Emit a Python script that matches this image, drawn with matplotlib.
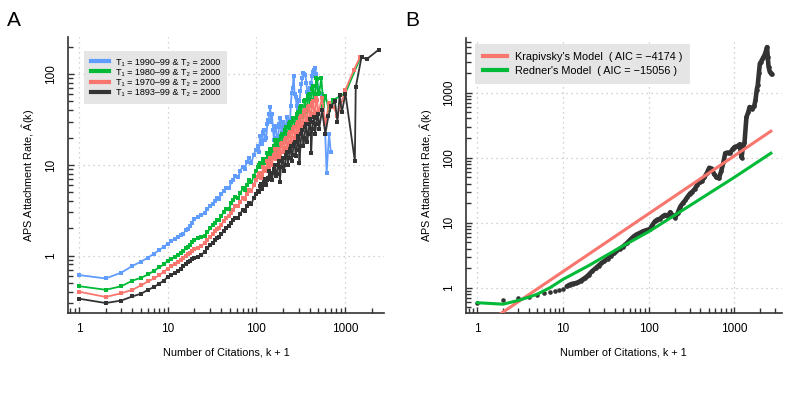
import numpy as np
import matplotlib
matplotlib.use('Agg')
import matplotlib.pyplot as plt
from matplotlib.lines import Line2D
from matplotlib.ticker import FixedLocator, NullFormatter

plt.rcParams['font.family'] = ['Liberation Sans', 'DejaVu Sans']
plt.rcParams['mathtext.fontset'] = 'custom'
plt.rcParams['mathtext.rm'] = 'Liberation Sans'
plt.rcParams['mathtext.it'] = 'Liberation Sans:italic'

# ---------------- Panel A data ----------------
K_LO = [1, 2, 3, 4, 5, 6, 7, 8, 9, 10, 11, 12, 13, 14, 15, 16, 17, 18, 19, 20,
        22, 24, 26, 28, 30, 32, 34, 36, 38, 40, 43, 46, 49, 52, 55, 58,
        62, 66, 70, 74, 78, 83, 88, 93, 98]
K_HI = [104, 107, 110, 113, 116, 119, 122, 126, 129, 133, 136, 140, 143, 147, 150, 154,
        158, 162, 166, 170, 175, 180, 184, 189, 194, 199, 204, 210, 215, 220, 226, 232,
        238, 244, 250, 256, 263, 270, 277, 284, 291, 298, 306, 314, 322, 330, 339, 348,
        357, 366, 375, 385, 395, 405, 415, 426, 437, 448, 460, 472, 484, 497, 510]

BLUE_LO = [0.61, 0.56, 0.65, 0.77, 0.86, 0.95, 1.05, 1.15, 1.25, 1.35, 1.45, 1.52, 1.6, 1.68, 1.75, 1.9, 1.98, 2.1, 2.3, 2.55,
           2.65, 2.8, 2.95, 3.25, 3.5, 3.7, 4.0, 4.35, 4.2, 4.8, 5.1, 5.6, 5.5, 6.4, 6.9, 7.5,
           7.3, 8.6, 9.6, 9.0, 10.8, 12.0, 10.5, 13.0, 14.5]
BLUE_HI = [16, 14, 21, 18, 17, 23, 24, 19, 20, 28, 31, 36, 43, 30, 36, 24,
           19, 27, 26, 20, 16.5, 28, 33, 26, 23, 30, 19, 24, 27, 34, 31, 22,
           25, 45, 62, 70, 95, 60, 56, 45, 40, 52, 50, 65, 78, 90, 104, 100,
           97, 80, 64, 58, 54, 70, 80, 95, 107, 112, 118, 100, 88, 70, 62]
BLUE_TAIL_K = [550, 590, 620, 660, 690]
BLUE_TAIL_A = [60, 30, 8.2, 22, 14]

GREEN_LO = [0.46, 0.42, 0.46, 0.53, 0.57, 0.62, 0.68, 0.74, 0.80, 0.87, 0.92, 0.96, 1.02, 1.08, 1.12, 1.2, 1.25, 1.32, 1.42, 1.5,
            1.55, 1.6, 1.65, 1.8, 2.0, 2.15, 2.3, 2.5, 2.45, 2.75, 3.0, 3.3, 3.3, 3.8, 4.1, 4.4,
            4.3, 4.9, 5.5, 5.3, 6.0, 6.8, 6.4, 7.5, 8.5]
GREEN_HI = [9.5, 10, 10.5, 9.5, 9.8, 11.5, 11.5, 10.5, 11, 13.5, 13, 12, 15, 14, 12.5, 14.5,
            16, 19, 14, 17, 19, 15, 16, 21, 22, 18, 18, 24, 26, 20, 21, 28,
            30, 24, 24, 33, 33, 26, 27, 36, 38, 28, 30, 42, 45, 34, 36, 50,
            52, 38, 40, 58, 60, 45, 48, 68, 75, 52, 55, 90, 88, 60, 62]
GREEN_TAIL_K = [540, 570, 600, 660, 740, 1010, 1480]
GREEN_TAIL_A = [90, 45, 58, 40, 52, 62, 150]

RED_LO = [0.40, 0.35, 0.385, 0.42, 0.47, 0.52, 0.56, 0.61, 0.66, 0.72, 0.76, 0.80, 0.85, 0.9, 0.94, 1.0, 1.04, 1.08, 1.12, 1.17,
          1.2, 1.28, 1.38, 1.5, 1.6, 1.72, 1.85, 1.95, 2.0, 2.2, 2.4, 2.6, 2.7, 2.95, 3.2, 3.5,
          3.5, 3.9, 4.3, 4.2, 4.8, 5.3, 5.1, 6.0, 6.8]
RED_HI = [7.4, 8.0, 8.2, 7.2, 7.8, 9.5, 9.2, 8.5, 8.8, 11, 10.5, 9.5, 12, 11, 10, 12,
          13, 15, 11.5, 13, 15, 12, 13, 17, 17.5, 14, 14.5, 19, 20, 15.5, 16.5, 22,
          23, 18, 18, 25, 26, 20, 21, 28, 30, 22, 23, 33, 35, 26, 27, 38,
          40, 29, 30, 44, 45, 33, 34, 48, 50, 36, 38, 54, 52, 38, 40]
RED_TAIL_K = [550, 600, 660, 740, 820, 1010, 1250, 1480]
RED_TAIL_A = [55, 28, 48, 44, 35, 67, 110, 155]

BLACK_LO = [0.335, 0.30, 0.32, 0.355, 0.38, 0.42, 0.45, 0.49, 0.53, 0.58, 0.61, 0.64, 0.68, 0.72, 0.76, 0.8, 0.84, 0.88, 0.92, 0.95,
            0.96, 1.02, 1.1, 1.2, 1.3, 1.38, 1.48, 1.55, 1.6, 1.72, 1.85, 2.0, 2.1, 2.3, 2.45, 2.6,
            2.6, 2.9, 3.2, 3.1, 3.5, 3.8, 3.7, 4.3, 4.8]
BLACK_HI = [5.2, 5.0, 5.8, 6.2, 5.4, 6.0, 6.5, 7.0, 6.0, 6.8, 7.2, 8.5, 8.0, 7.0, 6.8, 8.2,
            9.0, 10, 7.5, 8.0, 10, 11, 6.5, 9.5, 11, 12, 8.5, 10, 13, 14, 10, 12,
            15, 16, 11, 13, 17, 18, 12.5, 14.5, 19, 21, 10.5, 16, 22, 24, 16, 20,
            26, 28, 18, 22, 28, 32, 13.5, 25, 30, 34, 22, 28, 33, 36, 25]
BLACK_TAIL_K = [550, 600, 650, 700, 770, 820, 870, 920, 1010, 1290, 1320, 1535, 1750, 2410]
BLACK_TAIL_A = [40, 22, 35, 45, 50, 30, 59, 38, 61, 11, 72, 155, 146, 187]

LABELS_A = ['T\u2081 = 1990\u201399 & T\u2082 = 2000',
            'T\u2081 = 1980\u201399 & T\u2082 = 2000',
            'T\u2081 = 1970\u201399 & T\u2082 = 2000',
            'T\u2081 = 1893\u201399 & T\u2082 = 2000']

# ---------------- Panel B data ----------------
K_B = [1, 2, 3, 4, 5, 6, 7, 8, 9, 10, 11, 12, 13, 14, 15, 16, 17, 18, 19, 20,
       22, 24, 26, 28, 30, 33, 36, 39, 42, 46, 50, 55, 60, 66, 72, 79, 86, 94,
       103, 110, 118, 126, 135, 145, 155, 166, 178, 190, 203, 217, 232, 248, 265, 283,
       302, 322, 344, 367, 392, 418, 446, 476, 508, 542, 578, 616, 657, 700, 745, 780,
       830, 890, 950, 1010, 1080, 1150, 1210, 1260, 1310, 1380, 1450, 1500, 1560, 1620,
       1700, 1760, 1820, 1870, 1930, 1980, 2050, 2150, 2250, 2350, 2400, 2450, 2500, 2580,
       2650, 2720]
A_B = [0.59, 0.65, 0.69, 0.73, 0.78, 0.82, 0.85, 0.88, 0.91, 0.96, 1.05, 1.12, 1.16, 1.18, 1.22, 1.28, 1.35, 1.42, 1.5, 1.6,
       1.82, 2.0, 2.2, 2.4, 2.55, 2.8, 3.1, 3.4, 3.7, 4.0, 4.3, 4.8, 5.4, 6.1, 6.6, 7.0, 7.4, 7.7,
       8.0, 9.2, 10.5, 11.2, 11.5, 12.5, 13.2, 12.5, 14.5, 13.0, 12.0, 14.0, 17.5, 19.8, 22, 25,
       28, 30, 33, 38, 42, 44, 50, 58, 70, 68, 56, 50, 48, 62, 85, 117,
       120, 118, 135, 147, 150, 160, 100, 150, 170, 420, 500, 600, 580, 560,
       620, 760, 1100, 1300, 2000, 2800, 3000, 3400, 3800, 4500, 5000, 3500, 2500, 2100,
       2000, 1900]

KRAP_K = [1, 2660]
KRAP_A = [0.23, 255]
REDNER_K = [1, 2, 3, 4, 5, 7, 10, 20, 30, 50, 100, 200, 500, 1000, 2660]
REDNER_A = [0.59, 0.56, 0.64, 0.72, 0.80, 1.0, 1.35, 2.2, 3.0, 4.4, 7.3, 13, 28, 50, 117]

LABELS_B = ["Krapivsky's Model  ( AIC = \u22124174 )",
            "Redner's Model  ( AIC = \u221215056 )"]

BLUE = '#619CFF'
GREEN = '#00BA38'
RED = '#F8766D'
DARK = '#333333'

YLABEL = 'APS Attachment Rate, $\\hat{\\mathrm{A}}$(k)'
XLABEL = 'Number of Citations, k + 1'


def style_axes(ax, yticks, ymin, ymax, xmin, xmax):
    ax.set_xscale('log')
    ax.set_yscale('log')
    ax.set_xlim(xmin, xmax)
    ax.set_ylim(ymin, ymax)
    for s in ['top', 'right']:
        ax.spines[s].set_visible(False)
    for s in ['left', 'bottom']:
        ax.spines[s].set_color(DARK)
        ax.spines[s].set_linewidth(1.2)
    xt = [1, 10, 100, 1000]
    ax.xaxis.set_major_locator(FixedLocator(xt))
    ax.set_xticklabels([str(t) for t in xt])
    ax.yaxis.set_major_locator(FixedLocator(yticks))
    ax.set_yticklabels([str(t) for t in yticks])
    minors = [m * 10.0 ** e for e in range(-1, 4) for m in range(2, 10)]
    ax.xaxis.set_minor_locator(FixedLocator(minors))
    ax.yaxis.set_minor_locator(FixedLocator(minors))
    ax.xaxis.set_minor_formatter(NullFormatter())
    ax.yaxis.set_minor_formatter(NullFormatter())
    ax.tick_params(which='both', direction='in', color=DARK, width=1.0)
    ax.tick_params(which='major', length=4.5, labelsize=8.5)
    ax.tick_params(which='minor', length=3.5)
    ax.tick_params(axis='x', pad=7)
    ax.tick_params(axis='y', pad=8, labelrotation=90)
    for lab in ax.get_yticklabels():
        lab.set_va('center')
    ax.grid(True, which='major', linestyle=(0, (1, 3)), color='#c4c4c4', linewidth=0.9)
    ax.set_axisbelow(True)
    ax.set_xlabel(XLABEL, fontsize=7.8)
    ax.set_ylabel(YLABEL, fontsize=7.8)
    ax.xaxis.set_label_coords(0.5, -0.124)


fig = plt.figure(figsize=(7.96, 3.98), dpi=100)

# ---------------- Panel A ----------------
axA = fig.add_axes([68 / 796, 1 - 313 / 398, 316 / 796, 276 / 398])
style_axes(axA, [1, 10, 100], 0.233, 257, 0.75, 2750)
axA.yaxis.set_label_coords(-0.098, 0.5)

series = [(BLUE_LO + BLUE_HI, BLUE_TAIL_K, BLUE_TAIL_A, BLUE),
          (GREEN_LO + GREEN_HI, GREEN_TAIL_K, GREEN_TAIL_A, GREEN),
          (RED_LO + RED_HI, RED_TAIL_K, RED_TAIL_A, RED),
          (BLACK_LO + BLACK_HI, BLACK_TAIL_K, BLACK_TAIL_A, DARK)]
for vals, tk, ta, col in series:
    axA.plot(K_LO + K_HI + tk, vals + ta, color=col, linewidth=1.3,
             marker='s', markersize=2.8, markeredgewidth=0, zorder=3)

handlesA = [Line2D([], [], color=c, linewidth=3) for c in [BLUE, GREEN, RED, DARK]]
legA = axA.legend(handlesA, LABELS_A, loc='upper left', bbox_to_anchor=(0.05, 0.95),
                  borderaxespad=0, fontsize=6.5, frameon=True, fancybox=False,
                  facecolor='#e5e5e5', edgecolor='none', framealpha=1,
                  handlelength=2.0, handletextpad=0.8, borderpad=0.75, labelspacing=0.12)

# ---------------- Panel B ----------------
axB = fig.add_axes([465.7 / 796, 1 - 313 / 398, 316 / 796, 275 / 398])
style_axes(axB, [1, 10, 100, 1000], 0.41, 6900, 0.73, 3560)
axB.yaxis.set_label_coords(-0.097, 0.5)

axB.plot(K_B, A_B, linestyle='none', marker='o', markersize=3.3,
         markeredgewidth=0, color=DARK, zorder=3)
dense = [i for i, k in enumerate(K_B) if k >= 11]
axB.plot([K_B[i] for i in dense], [A_B[i] for i in dense], color=DARK,
         linewidth=3.3, zorder=3, solid_capstyle='round')
axB.plot(KRAP_K, KRAP_A, color=RED, linewidth=2.2, zorder=4)
axB.plot(REDNER_K, REDNER_A, color=GREEN, linewidth=2.2, zorder=4)

handlesB = [Line2D([], [], color=c, linewidth=3) for c in [RED, GREEN]]
legB = axB.legend(handlesB, LABELS_B, loc='upper left', bbox_to_anchor=(0.029, 0.978),
                  borderaxespad=0, fontsize=7.8, frameon=True, fancybox=False,
                  facecolor='#e5e5e5', edgecolor='none', framealpha=1,
                  handlelength=2.2, handletextpad=0.75, borderpad=0.75, labelspacing=0.32)

fig.text(7 / 796, 1 - 26 / 398, 'A', fontsize=15, va='baseline', ha='left')
fig.text(405 / 796, 1 - 26 / 398, 'B', fontsize=15, va='baseline', ha='left')

fig.savefig('out.png', dpi=100)
